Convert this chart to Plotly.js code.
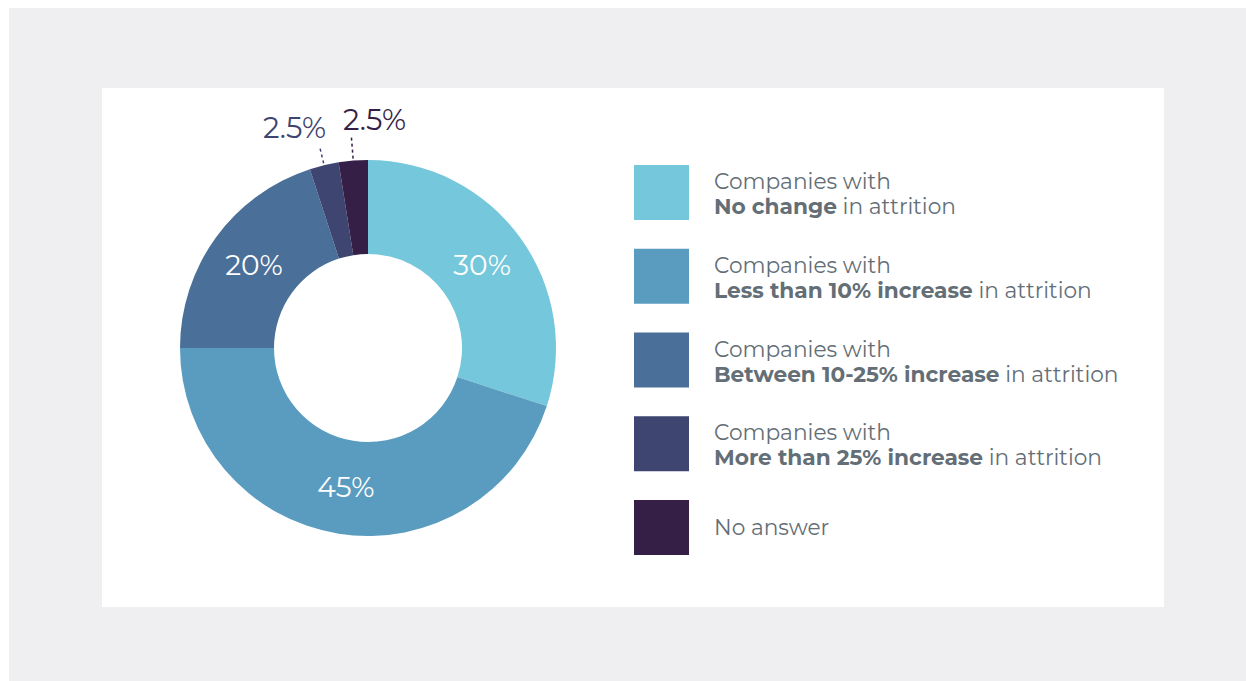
<!DOCTYPE html>
<html>
<head>
<meta charset="utf-8">
<script src="https://cdn.plot.ly/plotly-3.0.1.min.js"></script>
<style>html,body{margin:0;padding:0;background:#fff;}#chart{width:1246px;height:681px;}</style>
</head>
<body>
<div id="chart"></div>
<script>
// ---- data ----
const categories = [
  "No change",
  "Less than 10% increase",
  "Between 10-25% increase",
  "More than 25% increase",
  "No answer"
];
const values = [30, 45, 20, 2.5, 2.5];
const colors = ["#75c7db", "#5a9cc0", "#4a6f99", "#3e4570", "#351f46"];
const legendLine1 = ["Companies with", "Companies with", "Companies with", "Companies with", "No answer"];
const legendBold = ["No change", "Less than 10% increase", "Between 10-25% increase", "More than 25% increase", ""];
const legendTail = [" in attrition", " in attrition", " in attrition", " in attrition", ""];

// ---- geometry ----
const W = 1246, H = 681;
const cx = 368, cy = 348, R = 188;
const px = x => x / W;
const py = y => 1 - y / H;

const fnt = "Montserrat, 'Open Sans', sans-serif";
const total = values.reduce((a, b) => a + b, 0);

const trace = {
  type: "pie",
  labels: categories,
  values: values,
  sort: false,
  direction: "clockwise",
  rotation: 0,
  hole: 0.5,
  marker: {colors: colors, line: {width: 0}},
  textposition: values.map(v => v >= 5 ? "inside" : "none"),
  texttemplate: "%{value}%",
  insidetextorientation: "horizontal",
  textfont: {family: fnt, size: 28, color: "#ffffff"},
  showlegend: false,
  hoverinfo: "label+value",
  automargin: false,
  domain: {x: [px(cx - R), px(cx + R)], y: [py(cy + R), py(cy - R)]}
};

const shapes = [
  {type: "rect", xref: "paper", yref: "paper", x0: px(9), x1: 1, y0: 0, y1: py(8),
   fillcolor: "#efeff1", line: {width: 0}, layer: "below"},
  {type: "rect", xref: "paper", yref: "paper", x0: px(102), x1: px(1164), y0: py(607), y1: py(88),
   fillcolor: "#ffffff", line: {width: 0}, layer: "below"}
];
const annotations = [];

// outside labels for the small slices, placed from the data
let cum = 0;
let smallIdx = 0;
values.forEach((v, i) => {
  const mid = (cum + v / 2) / total * 2 * Math.PI;
  cum += v;
  if (v >= 5) return;
  const first = smallIdx === 0;
  const r0 = R + 2, r1 = R + (first ? 20 : 26);
  const x0 = cx + r0 * Math.sin(mid), y0 = cy - r0 * Math.cos(mid);
  const x1 = cx + r1 * Math.sin(mid), y1 = cy - r1 * Math.cos(mid);
  shapes.push({type: "line", xref: "paper", yref: "paper",
    x0: px(x0), y0: py(y0), x1: px(x1), y1: py(y1),
    line: {color: colors[i], width: 1.5, dash: "dot"}});
  annotations.push({
    xref: "paper", yref: "paper",
    x: px(first ? x1 + 9 : x1 - 10), y: py(first ? y1 + 1 : y1 + 4),
    xanchor: first ? "right" : "left", yanchor: "bottom",
    text: v + "%", showarrow: false,
    font: {family: fnt, size: 29, color: colors[i]}
  });
  smallIdx++;
});

// custom legend
const swX = 634, swSize = 55, rowTop0 = 165, rowStep = 83.75;
categories.forEach((c, i) => {
  const top = rowTop0 + i * rowStep;
  shapes.push({type: "rect", xref: "paper", yref: "paper",
    x0: px(swX), x1: px(swX + swSize), y0: py(top + swSize), y1: py(top),
    fillcolor: colors[i], line: {width: 0}});
  const twoLine = legendBold[i] !== "";
  annotations.push({
    xref: "paper", yref: "paper",
    x: px(712), y: py(twoLine ? top + 16 : top + swSize / 2 - 1),
    xanchor: "left", yanchor: "middle", align: "left",
    text: legendLine1[i], showarrow: false,
    font: {family: fnt, size: 21.7, color: "#636e76"}
  });
  if (twoLine) {
    annotations.push({
      xref: "paper", yref: "paper",
      x: px(712), y: py(top + 41),
      xanchor: "left", yanchor: "middle", align: "left",
      text: "<b>" + legendBold[i] + "</b>" + legendTail[i], showarrow: false,
      font: {family: fnt, size: 21.7, color: "#636e76"}
    });
  }
});

const layout = {
  width: W, height: H,
  margin: {l: 0, r: 0, t: 0, b: 0},
  paper_bgcolor: "#ffffff",
  plot_bgcolor: "#ffffff",
  showlegend: false,
  shapes: shapes,
  annotations: annotations
};

Plotly.newPlot("chart", [trace], layout, {displayModeBar: false, staticPlot: true});
</script>
</body>
</html>
